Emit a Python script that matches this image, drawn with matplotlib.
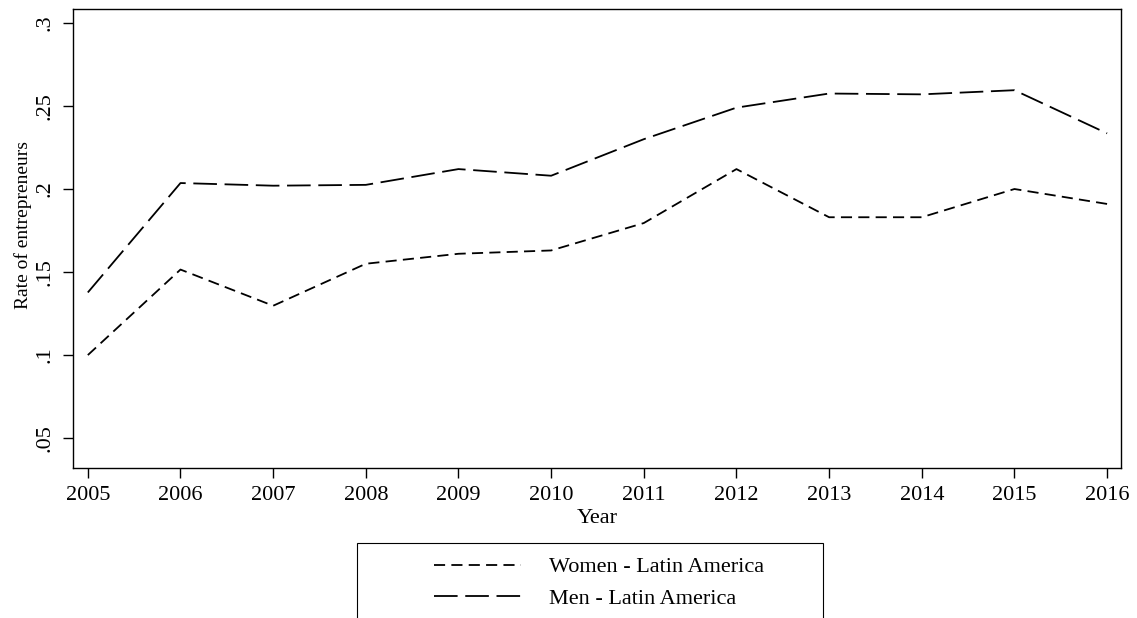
import matplotlib
matplotlib.use("Agg")
import matplotlib.pyplot as plt
from matplotlib.patches import Rectangle

years = [2005, 2006, 2007, 2008, 2009, 2010, 2011, 2012, 2013, 2014, 2015, 2016]
women = [0.100, 0.1515, 0.1297, 0.155, 0.161, 0.163, 0.1795, 0.212, 0.183, 0.183, 0.200, 0.191]
men = [0.1377, 0.2036, 0.202, 0.2025, 0.212, 0.208, 0.230, 0.249, 0.2575, 0.257, 0.2595, 0.2335]
yticks = [0.05, 0.1, 0.15, 0.2, 0.25, 0.3]
ytick_labels = [".05", ".1", ".15", ".2", ".25", ".3"]
series_labels = ["Women - Latin America", "Men - Latin America"]

plt.rcParams['font.family'] = ['Liberation Serif', 'DejaVu Serif']
plt.rcParams['lines.scale_dashes'] = False

W, H = 1137, 618
fig = plt.figure(figsize=(W / 100, H / 100), dpi=100)
L, R, T, B = 73, 1121, 9, 468
ax = fig.add_axes([L / W, 1 - B / H, (R - L) / W, (B - T) / H])

lw = 1.3
fs = 16
l1, = ax.plot(years, women, color='black', lw=lw, linestyle=(0, (8, 4.5)), label=series_labels[0])
l2, = ax.plot(years, men, color='black', lw=lw, linestyle=(0, (17, 5.5)), label=series_labels[1])

ax.set_xlim(2004.84, 2016.15)
ax.set_ylim(0.032, 0.3084)
ax.set_xticks(years)
ax.set_xticklabels([str(y) for y in years], fontsize=fs)
ax.set_yticks(yticks)
ax.set_yticklabels(ytick_labels, fontsize=fs, rotation=90, va='center')
ax.tick_params(axis='both', direction='out', length=7, width=1, color='black', pad=6)
for s in ax.spines.values():
    s.set_linewidth(1.0)
ax.set_xlabel("Year", fontsize=fs, labelpad=3)
ax.set_ylabel("Rate of entrepreneurs", fontsize=14)
ax.yaxis.set_label_coords(-0.039, 0.529)

# legend box (extends beyond the bottom of the figure)
fig.patches.append(Rectangle((357 / W, -0.05), (823 - 357) / W, (1 - 543 / H) + 0.05,
                             transform=fig.transFigure, fill=False, edgecolor='black',
                             lw=0.8, clip_on=False))
leg = fig.legend(handles=[l1, l2], loc='center left',
                 bbox_to_anchor=(423 / W, 1 - 583 / H), frameon=False, borderpad=0,
                 fontsize=fs, handlelength=3.9, handletextpad=1.25, labelspacing=0.5)

fig.savefig("out.png", dpi=100)
